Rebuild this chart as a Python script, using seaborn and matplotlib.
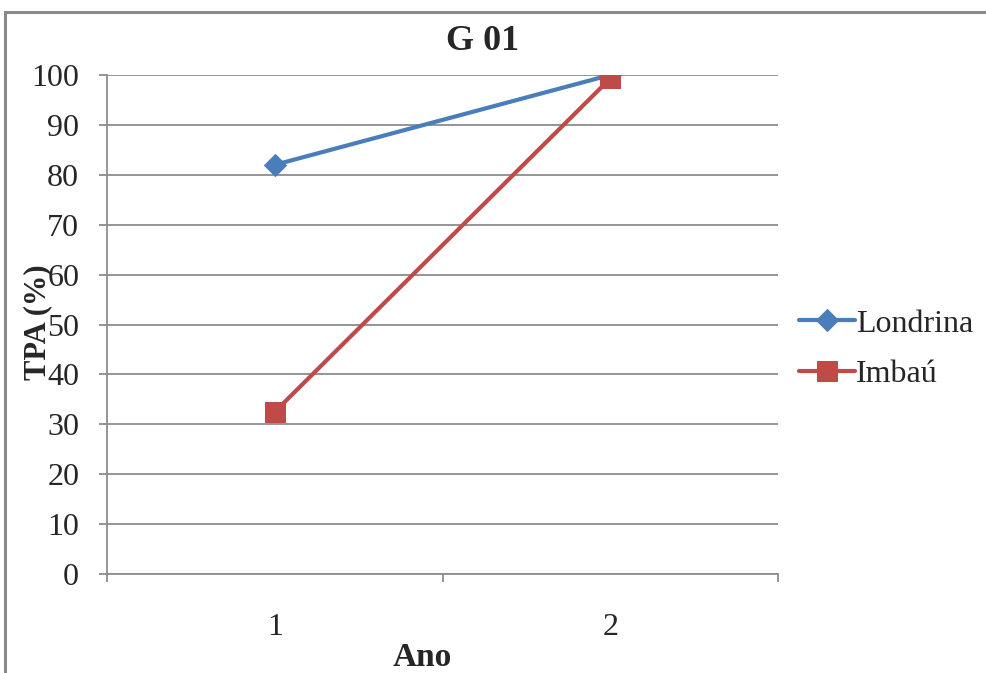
import matplotlib
matplotlib.use("Agg")
import matplotlib.pyplot as plt
import seaborn as sns
import pandas as pd
from matplotlib.patches import Rectangle

# Data
anos = ["1", "2"]
londrina = [82, 100]
imbau = [32.5, 99.3]
locais = ["Londrina", "Imbaú"]
y_ticks = list(range(0, 101, 10))

df = pd.DataFrame({
    "Ano": anos * 2,
    "TPA": londrina + imbau,
    "Local": [locais[0]] * 2 + [locais[1]] * 2,
})

sns.set_theme(style="white")
plt.rcParams["font.family"] = ["Liberation Serif", "DejaVu Serif"]

W, H = 987, 673
fig = plt.figure(figsize=(W / 100, H / 100), dpi=100)
ax = fig.add_axes([107 / W, 1 - 574 / H, (778 - 107) / W, (574 - 75) / H])

colors = {"Londrina": "#4A7EBB", "Imbaú": "#BE4B48"}
marker_size = {"Londrina": 11, "Imbaú": 14}
sns.lineplot(data=df, x="Ano", y="TPA", hue="Local", style="Local",
             markers={"Londrina": "D", "Imbaú": "s"}, dashes=False,
             palette=colors, linewidth=3.0, ax=ax, legend=True)

for line, name in zip(ax.get_lines(), locais):
    c = colors[name]
    line.set_markeredgecolor(c)
    line.set_markerfacecolor(c)
    line.set_markersize(marker_size[name])
    line.set_zorder(3 if name == "Londrina" else 4)

grid_c = "#8C8C8C"
ax.set_xlim(-0.5, 1.5)
ax.set_ylim(0, 100)
ax.set_yticks(y_ticks)
ax.set_yticklabels([str(v) for v in y_ticks], fontsize=23)
ax.yaxis.grid(True, color=grid_c, linewidth=1.3)
ax.xaxis.grid(False)
ax.set_axisbelow(True)

ax.set_xticks([-0.5, 0.5, 1.5])
ax.set_xticklabels([])
ax.set_xticks([0, 1], minor=True)
ax.set_xticklabels(anos, minor=True, fontsize=23)
ax.tick_params(axis="x", which="major", direction="out", length=6, width=1.3,
               color=grid_c, bottom=True)
ax.tick_params(axis="x", which="minor", length=0, pad=28)
ax.tick_params(axis="y", direction="out", length=6, width=1.3, color=grid_c,
               left=True, pad=14)

for side in ["top", "right"]:
    ax.spines[side].set_visible(False)
for side in ["left", "bottom"]:
    ax.spines[side].set_color(grid_c)
    ax.spines[side].set_linewidth(1.3)

ax.set_xlabel("")
ax.set_ylabel("")

handles, labels = ax.get_legend_handles_labels()
leg = ax.legend(handles, labels, loc="center left",
                bbox_to_anchor=(679 / 671, (574 - 349) / 499),
                frameon=False, fontsize=23, handlelength=1.75,
                handletextpad=0.05, labelspacing=0.65, borderaxespad=0)
for h, name in zip(leg.legend_handles, labels):
    h.set_linewidth(3.0)
    h.set_markersize(marker_size[name])
    h.set_markeredgecolor(colors[name])
    h.set_markerfacecolor(colors[name])

fig.text(483 / W, 1 - 42 / H, "G 01", ha="center", va="center",
         fontsize=26, fontweight="bold")
fig.text(422 / W, 1 - 657 / H, "Ano", ha="center", va="center",
         fontsize=24, fontweight="bold")
fig.text(38 / W, 1 - 322 / H, "TPA (%)", ha="center", va="center",
         rotation=90, fontsize=22, fontweight="bold")

# Frame around the chart
fig.patches.append(Rectangle((5 / W, -0.05), 1.2, 1 - 12 / H + 0.05,
                             transform=fig.transFigure, fill=False,
                             edgecolor="#8A8A8A", linewidth=2.2))

fig.savefig("out.png", dpi=100, facecolor="white")
